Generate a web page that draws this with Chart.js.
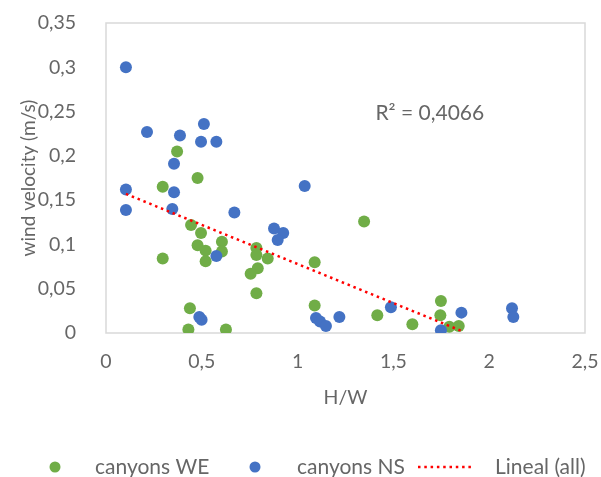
<!DOCTYPE html>
<html>
<head>
<meta charset="utf-8">
<script src="https://cdn.jsdelivr.net/npm/chart.js@4.4.1/dist/chart.umd.min.js"></script>
<style>
  body { margin: 0; background: #fff; }
</style>
</head>
<body>
<canvas id="chart" width="601" height="477"></canvas>
<script>
// canyons WE (green)
const weX = [0.371, 0.478, 0.296, 0.444, 0.496, 0.605, 0.478, 0.520, 0.605, 0.520, 0.296,
             0.785, 0.785, 0.844, 0.792, 0.755, 0.785, 0.438, 0.430, 0.626,
             1.347, 1.089, 1.089, 1.416, 1.599, 1.748, 1.745, 1.792, 1.841];
const weY = [0.205, 0.175, 0.165, 0.122, 0.113, 0.103, 0.099, 0.093, 0.092, 0.081, 0.084,
             0.096, 0.088, 0.084, 0.073, 0.067, 0.045, 0.028, 0.004, 0.004,
             0.126, 0.080, 0.031, 0.020, 0.010, 0.036, 0.020, 0.007, 0.008];
// canyons NS (blue)
const nsX = [0.104, 0.214, 0.386, 0.511, 0.496, 0.576, 0.355, 0.104, 0.355, 0.104, 0.346,
             0.670, 0.576, 0.877, 0.925, 0.896, 0.487, 0.499, 1.037, 1.096, 1.117,
             1.148, 1.218, 1.487, 1.748, 1.855, 2.119, 2.126];
const nsY = [0.300, 0.227, 0.223, 0.236, 0.216, 0.216, 0.191, 0.162, 0.159, 0.139, 0.140,
             0.136, 0.087, 0.118, 0.113, 0.105, 0.018, 0.015, 0.166, 0.017, 0.013,
             0.008, 0.018, 0.029, 0.003, 0.023, 0.028, 0.018];
// Lineal (all) trend line ends
const trendX = [0.104, 1.865];
const trendY = [0.157, 0.0015];

const seriesLabels = ["canyons WE", "canyons NS", "Lineal (all)"];
const r2Label = "R² = 0,4066";
const xTicks = [0, 0.5, 1, 1.5, 2, 2.5];
const xTickLabels = ["0", "0,5", "1", "1,5", "2", "2,5"];
const yTicks = [0, 0.05, 0.1, 0.15, 0.2, 0.25, 0.3, 0.35];
const yTickLabels = ["0", "0,05", "0,1", "0,15", "0,2", "0,25", "0,3", "0,35"];

const GREEN = "#70AD47";
const BLUE = "#4472C4";
const RED = "#FF0000";
const TEXT = "#666666";
const FONT = "Lato";

const toPoints = (xs, ys) => xs.map((x, i) => ({ x: x, y: ys[i] }));

// plot frame + R² annotation
const framePlugin = {
  id: "frame",
  beforeDatasetsDraw(chart) {
    const a = chart.chartArea;
    const ctx = chart.ctx;
    ctx.save();
    ctx.strokeStyle = "#d9d9d9";
    ctx.lineWidth = 1.5;
    ctx.strokeRect(a.left, a.top, a.right - a.left, a.bottom - a.top);
    ctx.restore();
  },
  afterDraw(chart) {
    const ctx = chart.ctx;
    const sx = chart.scales.x, sy = chart.scales.y;
    ctx.save();
    ctx.fillStyle = TEXT;
    ctx.font = "21px " + FONT;
    ctx.textAlign = "center";
    ctx.textBaseline = "middle";
    ctx.fillText(r2Label, sx.getPixelForValue(1.69), sy.getPixelForValue(0.248));
    ctx.restore();
  }
};

// legend in the style of the original (markers then labels, one row)
const legendPlugin = {
  id: "rowLegend",
  afterDraw(chart) {
    const ctx = chart.ctx;
    const y = 467;
    const ds = chart.data.datasets;
    ctx.save();
    ctx.font = "21px " + FONT;
    ctx.textBaseline = "middle";
    ctx.textAlign = "left";

    ctx.fillStyle = ds[0].backgroundColor;
    ctx.beginPath(); ctx.arc(55, y, 5.5, 0, Math.PI * 2); ctx.fill();
    ctx.fillStyle = TEXT;
    ctx.fillText(ds[0].label, 95, y);

    ctx.fillStyle = ds[1].backgroundColor;
    ctx.beginPath(); ctx.arc(255, y, 5.5, 0, Math.PI * 2); ctx.fill();
    ctx.fillStyle = TEXT;
    ctx.fillText(ds[1].label, 297, y);

    ctx.strokeStyle = ds[2].borderColor;
    ctx.lineWidth = 2.5;
    ctx.setLineDash([2.5, 3.8]);
    ctx.beginPath(); ctx.moveTo(418, y); ctx.lineTo(474, y); ctx.stroke();
    ctx.setLineDash([]);
    ctx.fillStyle = TEXT;
    ctx.fillText(ds[2].label, 495, y);
    ctx.restore();
  }
};

new Chart(document.getElementById("chart"), {
  type: "scatter",
  data: {
    datasets: [
      {
        label: seriesLabels[0],
        data: toPoints(weX, weY),
        backgroundColor: GREEN,
        borderColor: GREEN,
        pointRadius: 6,
        pointBorderWidth: 0,
        order: 2
      },
      {
        label: seriesLabels[1],
        data: toPoints(nsX, nsY),
        backgroundColor: BLUE,
        borderColor: BLUE,
        pointRadius: 6,
        pointBorderWidth: 0,
        order: 1
      },
      {
        type: "line",
        label: seriesLabels[2],
        data: toPoints(trendX, trendY),
        borderColor: RED,
        backgroundColor: RED,
        borderWidth: 2.5,
        borderDash: [2.5, 3.8],
        pointRadius: 0,
        fill: false,
        order: 0
      }
    ]
  },
  options: {
    responsive: false,
    animation: false,
    layout: { padding: { top: 23, right: 16, bottom: 0, left: 0 } },
    plugins: {
      legend: { display: false },
      tooltip: { enabled: false }
    },
    scales: {
      x: {
        type: "linear",
        min: 0,
        max: 2.5,
        grid: { display: false },
        border: { display: false },
        afterBuildTicks(scale) { scale.ticks = xTicks.map(v => ({ value: v })); },
        afterFit(scale) {
          scale.height = 144;
          scale.paddingLeft = 0;
          scale.paddingRight = 0;
        },
        ticks: {
          color: TEXT,
          font: { family: FONT, size: 19.5 },
          padding: 9,
          maxRotation: 0,
          callback: (v, i) => xTickLabels[i]
        },
        title: {
          display: true,
          text: "H/W",
          color: TEXT,
          font: { family: FONT, size: 19.5 },
          padding: { top: 0, bottom: 68 }
        }
      },
      y: {
        type: "linear",
        min: 0,
        max: 0.35,
        grid: { display: false },
        border: { display: false },
        afterBuildTicks(scale) { scale.ticks = yTicks.map(v => ({ value: v })); },
        afterFit(scale) {
          scale.width = 106;
          scale.paddingTop = 0;
          scale.paddingBottom = 0;
        },
        ticks: {
          color: TEXT,
          font: { family: FONT, size: 19.5 },
          padding: 22,
          callback: (v, i) => yTickLabels[i]
        },
        title: {
          display: true,
          text: "wind velocity (m/s)",
          color: TEXT,
          font: { family: FONT, size: 19 },
          padding: { top: 17, bottom: 0 }
        }
      }
    }
  },
  plugins: [framePlugin, legendPlugin]
});
</script>
</body>
</html>
